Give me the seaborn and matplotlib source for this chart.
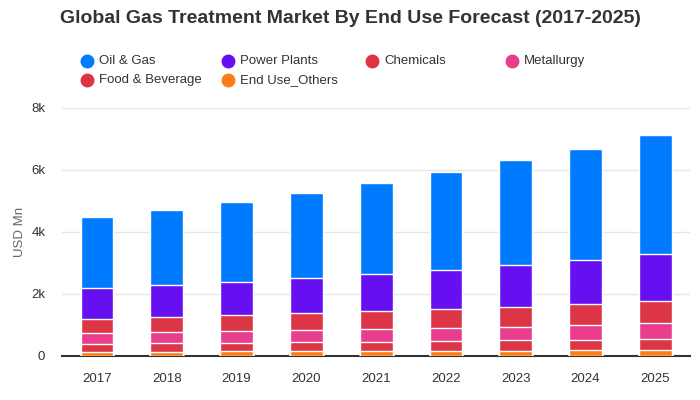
import matplotlib
matplotlib.use("Agg")
import matplotlib.pyplot as plt
import seaborn as sns
import numpy as np
import pandas as pd
from matplotlib.lines import Line2D

years = ["2017", "2018", "2019", "2020", "2021", "2022", "2023", "2024", "2025"]
others = [130, 130, 160, 160, 160, 150, 150, 180, 180]
food_beverage = [258, 290, 270, 300, 300, 335, 365, 335, 370]
metallurgy = [355, 355, 375, 390, 420, 405, 420, 485, 515]
chemicals = [452, 485, 515, 540, 570, 615, 645, 677, 710]
power_plants = [1000, 1030, 1065, 1130, 1190, 1270, 1355, 1420, 1515]
oil_gas = [2300, 2430, 2590, 2750, 2945, 3150, 3375, 3590, 3825]

series_names = ["Oil & Gas", "Power Plants", "Chemicals", "Metallurgy", "Food & Beverage", "End Use_Others"]
series_colors = ["#007bff", "#6610f2", "#dc3545", "#e83e8c", "#dc3545", "#fd7e14"]
series_values = [oil_gas, power_plants, chemicals, metallurgy, food_beverage, others]

sns.set_theme(style="white")
plt.rcParams["font.family"] = ["Liberation Sans", "DejaVu Sans"]

fig = plt.figure(figsize=(7, 4), dpi=100)
ax = fig.add_axes([0.0886, 0.11, 0.8974, 0.62])

# cumulative stacks, bottom series is last in list
stack_order = series_values[::-1]  # bottom -> top
cums = np.cumsum(np.array(stack_order), axis=0)
colors_bottom_up = series_colors[::-1]
# draw tallest first
for i in range(len(stack_order) - 1, -1, -1):
    df = pd.DataFrame({"year": years, "value": cums[i]})
    sns.barplot(data=df, x="year", y="value", color=colors_bottom_up[i], ax=ax,
                width=0.47, edgecolor="white", linewidth=1.0, saturation=1, zorder=3)

ax.set_ylim(0, 8000)
ax.set_yticks([0, 2000, 4000, 6000, 8000])
ax.set_yticklabels(["0", "2k", "4k", "6k", "8k"])
ax.yaxis.grid(True, color="#e6e6e6", linewidth=1, zorder=0)
ax.set_axisbelow(True)
for s in ["top", "right", "left"]:
    ax.spines[s].set_visible(False)
ax.spines["bottom"].set_color("#333333")
ax.spines["bottom"].set_linewidth(1.5)
ax.set_xlabel("")
ax.set_ylabel("USD Mn", fontsize=9.5, color="#666666", labelpad=4)
ax.tick_params(axis="y", length=0, labelsize=9.5, labelcolor="#333333", pad=12)
ax.tick_params(axis="x", length=0, labelsize=9.5, labelcolor="#333333", pad=12)
ax.set_xlim(-0.5, len(years) - 0.5)

fig.text(0.5, 0.953, "Global Gas Treatment Market By End Use Forecast (2017-2025)",
         ha="center", va="center", fontsize=14, fontweight="bold", color="#333333")

# legend
col_x = [87, 228, 372, 512]
row_y = [61, 80]
for k, (name, col) in enumerate(zip(series_names, series_colors)):
    r, c = divmod(k, 4)
    x = col_x[c] / 700
    y = 1 - row_y[r] / 400
    fig.add_artist(Line2D([x], [y], marker="o", markersize=9, color=col,
                          linestyle="none", transform=fig.transFigure))
    fig.text(x + 12 / 700, y, name, ha="left", va="center", fontsize=9.5, color="#333333")

fig.savefig("out.png", dpi=100)
